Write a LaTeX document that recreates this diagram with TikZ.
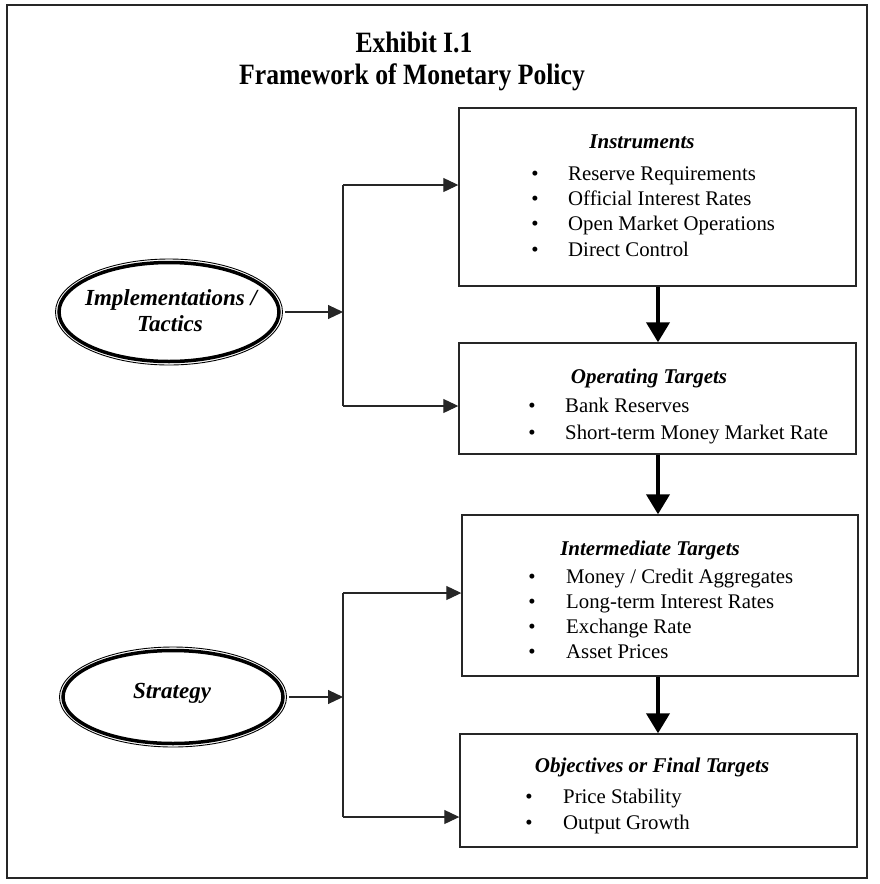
\documentclass[tikz,border=0pt]{standalone}
\usepackage{fontspec}
\setmainfont{Liberation Serif}
\usetikzlibrary{arrows.meta,shapes.geometric,calc}

\tikzset{
  x=1pt, y=-1pt,
  panel/.style={draw=black!85, line width=1.4pt, rectangle, inner sep=0pt},
  head/.style={font=\fontsize{21}{24}\selectfont\bfseries\itshape, inner sep=0pt, anchor=base},
  itemtext/.style={font=\fontsize{20.8}{24}\selectfont, inner sep=0pt, anchor=base west},
  dot/.style={font=\fontsize{20.8}{24}\selectfont, inner sep=0pt, anchor=base},
  oval/.style={ellipse, draw=black, line width=3.5pt, inner sep=0pt},
  rim/.style={draw=black, line width=0.9pt},
  ovaltext/.style={font=\fontsize{23}{26}\selectfont\bfseries\itshape, inner sep=0pt, anchor=base},
  link/.style={draw=black!85, line width=1.1pt, -{Triangle[length=15pt,width=14pt]}},
  wire/.style={draw=black!85, line width=1.1pt},
  flow/.style={draw=black, line width=4pt, -{Triangle[length=20pt,width=23pt]}},
  titletext/.style={font=\fontsize{29.5}{32}\selectfont\bfseries, inner sep=0pt, anchor=base},
}

\begin{document}
\begin{tikzpicture}
\useasboundingbox (0,0) rectangle (879,884);

% outer frame
\node[draw=black!85, line width=2.4pt, minimum width=860pt, minimum height=873pt, inner sep=0pt] (frame) at (437,441.5) {};

% heading
\node[titletext] (t1) at (414,52) {\scalebox{0.87}[1]{Exhibit I.1}};
\node[titletext] (t2) at (412,84) {\scalebox{0.87}[1]{Framework of Monetary Policy}};

% boxes
\node[panel, minimum width=397pt, minimum height=178pt] (instr) at (657.5,197) {};
\node[panel, minimum width=397pt, minimum height=111pt] (oper) at (657.5,398.5) {};
\node[panel, minimum width=396pt, minimum height=161pt] (inter) at (660,595.5) {};
\node[panel, minimum width=397pt, minimum height=113pt] (obj) at (658.5,790.5) {};

% Instruments
\node[head] (h1) at (642,148) {Instruments};
\node[dot] (b11) at (535,180.5) {\textbullet};
\node[itemtext] (i11) at (568,180.5) {Reserve Requirements};
\node[dot] (b12) at (535,205.5) {\textbullet};
\node[itemtext] (i12) at (568,205.5) {Official Interest Rates};
\node[dot] (b13) at (535,230.5) {\textbullet};
\node[itemtext] (i13) at (568,230.5) {Open Market Operations};
\node[dot] (b14) at (535,256) {\textbullet};
\node[itemtext] (i14) at (568,256) {Direct Control};

% Operating targets
\node[head] (h2) at (649,383) {Operating Targets};
\node[dot] (b21) at (532,412) {\textbullet};
\node[itemtext] (i21) at (565,412) {Bank Reserves};
\node[dot] (b22) at (532,439) {\textbullet};
\node[itemtext] (i22) at (565,439) {Short-term Money Market Rate};

% Intermediate targets
\node[head] (h3) at (650,555) {Intermediate Targets};
\node[dot] (b31) at (532,583) {\textbullet};
\node[itemtext] (i31) at (566,583) {Money / Credit Aggregates};
\node[dot] (b32) at (532,608) {\textbullet};
\node[itemtext] (i32) at (566,608) {Long-term Interest Rates};
\node[dot] (b33) at (532,633) {\textbullet};
\node[itemtext] (i33) at (566,633) {Exchange Rate};
\node[dot] (b34) at (532,658.5) {\textbullet};
\node[itemtext] (i34) at (566,658.5) {Asset Prices};

% Objectives
\node[head] (h4) at (652,772) {Objectives or Final Targets};
\node[dot] (b41) at (529,803) {\textbullet};
\node[itemtext] (i41) at (563,803) {Price Stability};
\node[dot] (b42) at (529,829.5) {\textbullet};
\node[itemtext] (i42) at (563,829.5) {Output Growth};

% vertical chain, all on one axis
\coordinate (axis) at (658,0);
\draw[flow] (axis |- instr.south) -- (axis |- oper.north);
\draw[flow] (axis |- oper.south) -- (axis |- inter.north);
\draw[flow] (axis |- inter.south) -- (axis |- obj.north);

% ellipses: heavy rim with a thin line just outside it
\node[oval, minimum width=220pt, minimum height=99pt] (tact) at (169,312) {};
\draw[rim] (tact.center) ellipse [x radius=113.5pt, y radius=53pt];
\node[ovaltext] (e1a) at (171,305.5) {Implementations /};
\node[ovaltext] (e1b) at (170,331.5) {Tactics};

\node[oval, minimum width=220pt, minimum height=93pt] (strat) at (173,697) {};
\draw[rim] (strat.center) ellipse [x radius=113.5pt, y radius=50pt];
\node[ovaltext] (e2) at (172,698) {Strategy};

% branch for tactics
\coordinate (j1) at (343,312);
\coordinate (j1t) at (343,185);
\coordinate (j1b) at (343,406);
\draw[link] ([xshift=4pt]tact.east) -- (j1);
\draw[wire] (j1t) -- (j1b);
\draw[link] (j1t) -- (j1t -| instr.west);
\draw[link] (j1b) -- (j1b -| oper.west);

% branch for strategy
\coordinate (j2) at (343,697);
\coordinate (j2t) at (343,593);
\coordinate (j2b) at (343,817);
\draw[link] ([xshift=4pt]strat.east) -- (j2);
\draw[wire] (j2t) -- (j2b);
\draw[link] (j2t) -- (j2t -| inter.west);
\draw[link] (j2b) -- (j2b -| obj.west);
\end{tikzpicture}
\end{document}
